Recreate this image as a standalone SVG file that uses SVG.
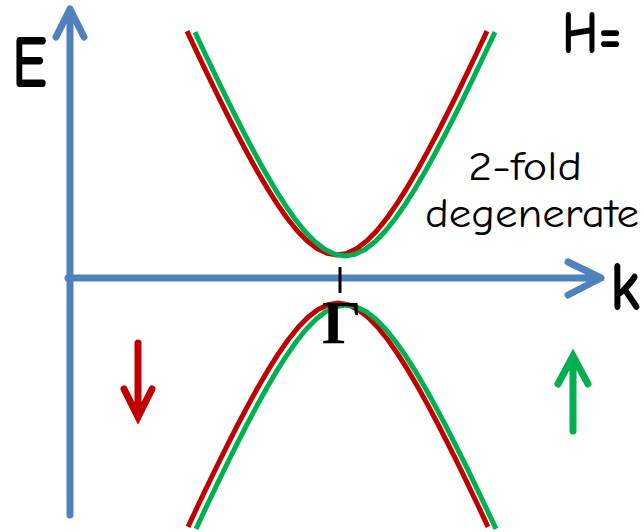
<svg xmlns="http://www.w3.org/2000/svg" width="644" height="532" viewBox="0 0 644 532">
<style>
.axis{fill:none;stroke:#4F81BD;stroke-width:7;stroke-linecap:round;stroke-linejoin:round}
.red{fill:none;stroke:#C00000;stroke-width:5;stroke-linejoin:round}
.green{fill:none;stroke:#00B050;stroke-width:5;stroke-linejoin:round}
.spin{fill:none;stroke-width:7;stroke-linecap:round;stroke-linejoin:miter}
.lbl{font-family:"Comic Sans MS","Comic Neue","DejaVu Sans",sans-serif;fill:#000}
</style>
<defs>
<path id="band" d="M-150,-223.84 L-140,-202.54 L-130,-181.57 L-120,-160.97 L-110,-140.84 L-100,-121.26 L-90,-102.35 L-80,-84.26 L-70,-67.17 L-60,-51.31 L-50,-36.97 L-40,-24.45 L-30,-14.15 L-20,-6.43 L-10,-1.63 L0,0 L10,-1.63 L20,-6.43 L30,-14.15 L40,-24.45 L50,-36.97 L60,-51.31 L70,-67.17 L80,-84.26 L90,-102.35 L100,-121.26 L110,-140.84 L120,-160.97 L130,-181.57 L140,-202.54 L150,-223.84"/>
</defs>
<g id="axes">
<path class="axis" d="M70,515 V9 M56,37 L70,9 L84,37"/>
<path class="axis" d="M68,278 H601 M568,262 L601,278 L568,295"/>
</g>
<g id="bands">
<use href="#band" class="red" transform="translate(337,255)"/>
<use href="#band" class="green" transform="translate(345,256)"/>
<use href="#band" class="red" transform="translate(338,303) scale(1,-1)"/>
<use href="#band" class="green" transform="translate(346,305) scale(1,-1)"/>
</g>
<g id="gamma">
<line x1="340" y1="267" x2="340" y2="293" stroke="#000" stroke-width="3"/>
<text x="322" y="343" font-family="'Liberation Serif','Times New Roman',serif" font-size="62" font-weight="bold" fill="#000">Γ</text>
</g>
<g id="labels">
<text class="lbl" x="12" y="87" font-size="74" font-weight="bold" textLength="35" lengthAdjust="spacingAndGlyphs">E</text>
<text class="lbl" x="610" y="310" font-size="70" font-weight="bold" textLength="30" lengthAdjust="spacingAndGlyphs">k</text>
<text class="lbl" x="562" y="53" font-size="60" font-weight="bold" textLength="60" lengthAdjust="spacingAndGlyphs">H=</text>
<text class="lbl" x="468" y="180" font-size="41" textLength="114" lengthAdjust="spacingAndGlyphs">2-fold</text>
<text class="lbl" x="425" y="227" font-size="41" textLength="214" lengthAdjust="spacingAndGlyphs">degenerate</text>
</g>
<g id="spin-down">
<path class="spin" stroke="#C00000" d="M138,343 V417 M124,389 L138,417 L152,389"/>
</g>
<g id="spin-up">
<path class="spin" stroke="#00B050" d="M573,431 V356 M558,384 L573,356 L588,384"/>
</g>
</svg>
